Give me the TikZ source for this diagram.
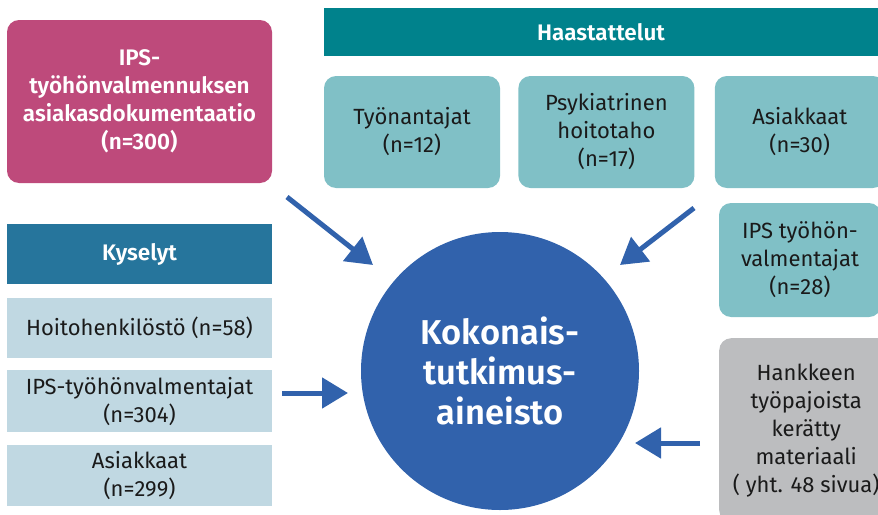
\documentclass[tikz,border=0pt]{standalone}
\usepackage{fontspec}
\setmainfont{Fira Sans}[BoldFont={Fira Sans SemiBold}]
\usepackage{xcolor}
\usetikzlibrary{positioning,arrows.meta}

\definecolor{docpink}{HTML}{BE4A7B}
\definecolor{haastteal}{HTML}{00828C}
\definecolor{haastlight}{HTML}{80C0C6}
\definecolor{kysblue}{HTML}{26759C}
\definecolor{kyslight}{HTML}{C0D8E2}
\definecolor{hankgray}{HTML}{BCBDBF}
\definecolor{aineisto}{HTML}{3162AC}
\definecolor{textdark}{HTML}{1A1A1A}

\begin{document}
\begin{tikzpicture}[x=1pt, y=-1pt, node distance=12pt,
	box/.style={rectangle, inner sep=0pt, align=center, text=textdark, font=\fontsize{22}{28}\selectfont},
	hbox/.style={box, rounded corners=12pt, fill=haastlight, minimum height=112pt},
	kbox/.style={box, fill=kyslight, minimum width=265pt},
	header/.style={rectangle, inner sep=0pt, text=white, font=\fontsize{22.5}{26}\selectfont\bfseries},
	bigarrow/.style={draw=aineisto, line width=5pt, -{Triangle[length=26pt, width=30pt]}}]
	\useasboundingbox (0,0) rectangle (878,514);
	\clip (0,0) rectangle (878,514);

	\node[circle, fill=aineisto, minimum size=278pt, inner sep=0pt, align=center, text=white, font=\fontsize{34.5}{40}\selectfont\bfseries] (aine) at (500,371) {Kokonais-\\tutkimus-\\aineisto};

	% dokumentaatio ja kyselyt
	\node[rectangle, rounded corners=12pt, fill=docpink, minimum width=265pt, minimum height=163pt, align=center, text=white, font=\fontsize{22.5}{28}\selectfont\bfseries] (doc) at (139.5,101.5) {IPS-\\työhönvalmennuksen\\asiakasdokumentaatio\\(n=300)};
	\node[header, fill=kysblue, minimum width=265pt, minimum height=60pt, below=41pt of doc] (kys) {Kyselyt};
	\node[kbox, minimum height=60pt, below=13pt of kys] (hoito) {Hoitohenkilöstö (n=58)};
	\node[kbox, minimum height=62pt, below=of hoito] (ipsk) {IPS-työhönvalmentajat\\(n=304)};
	\node[kbox, minimum height=61pt, below=of ipsk] (asiakk) {Asiakkaat\\(n=299)};

	% haastattelut
	\node[header, fill=haastteal, minimum width=554pt, minimum height=48pt] (haast) at (601,32) {Haastattelut};
	\node[hbox, minimum width=176pt] (tyon) at (412,132) {Työnantajat\\(n=12)};
	\node[hbox, minimum width=176pt, right=18pt of tyon] (psyk) {Psykiatrinen\\hoitotaho\\(n=17)};
	\node[hbox, minimum width=170pt, right=20pt of psyk] (asiak) {Asiakkaat\\(n=30)};
	\node[hbox, minimum width=162pt, minimum height=114pt] (ipsv) at (800,260) {IPS työhön-\\valmentajat\\(n=28)};
	\node[box, rounded corners=12pt, fill=hankgray, minimum width=174pt, minimum height=184pt, anchor=north west] (hank) at (719,338) {Hankkeen\\työpajoista\\kerätty\\materiaali\\( yht. 48 sivua)};

	\coordinate (a1) at (287,197);
	\coordinate (b1) at (373,265);
	\coordinate (a2) at (694,208);
	\coordinate (b2) at (620,265);
	\coordinate (a3) at (282,393);
	\coordinate (b3) at (348,393);
	\coordinate (a4) at (700,443);
	\coordinate (b4) at (635,443);
	\draw[bigarrow] (a1) -- (b1);
	\draw[bigarrow] (a2) -- (b2);
	\draw[bigarrow] (a3) -- (b3);
	\draw[bigarrow] (a4) -- (b4);
\end{tikzpicture}
\end{document}
